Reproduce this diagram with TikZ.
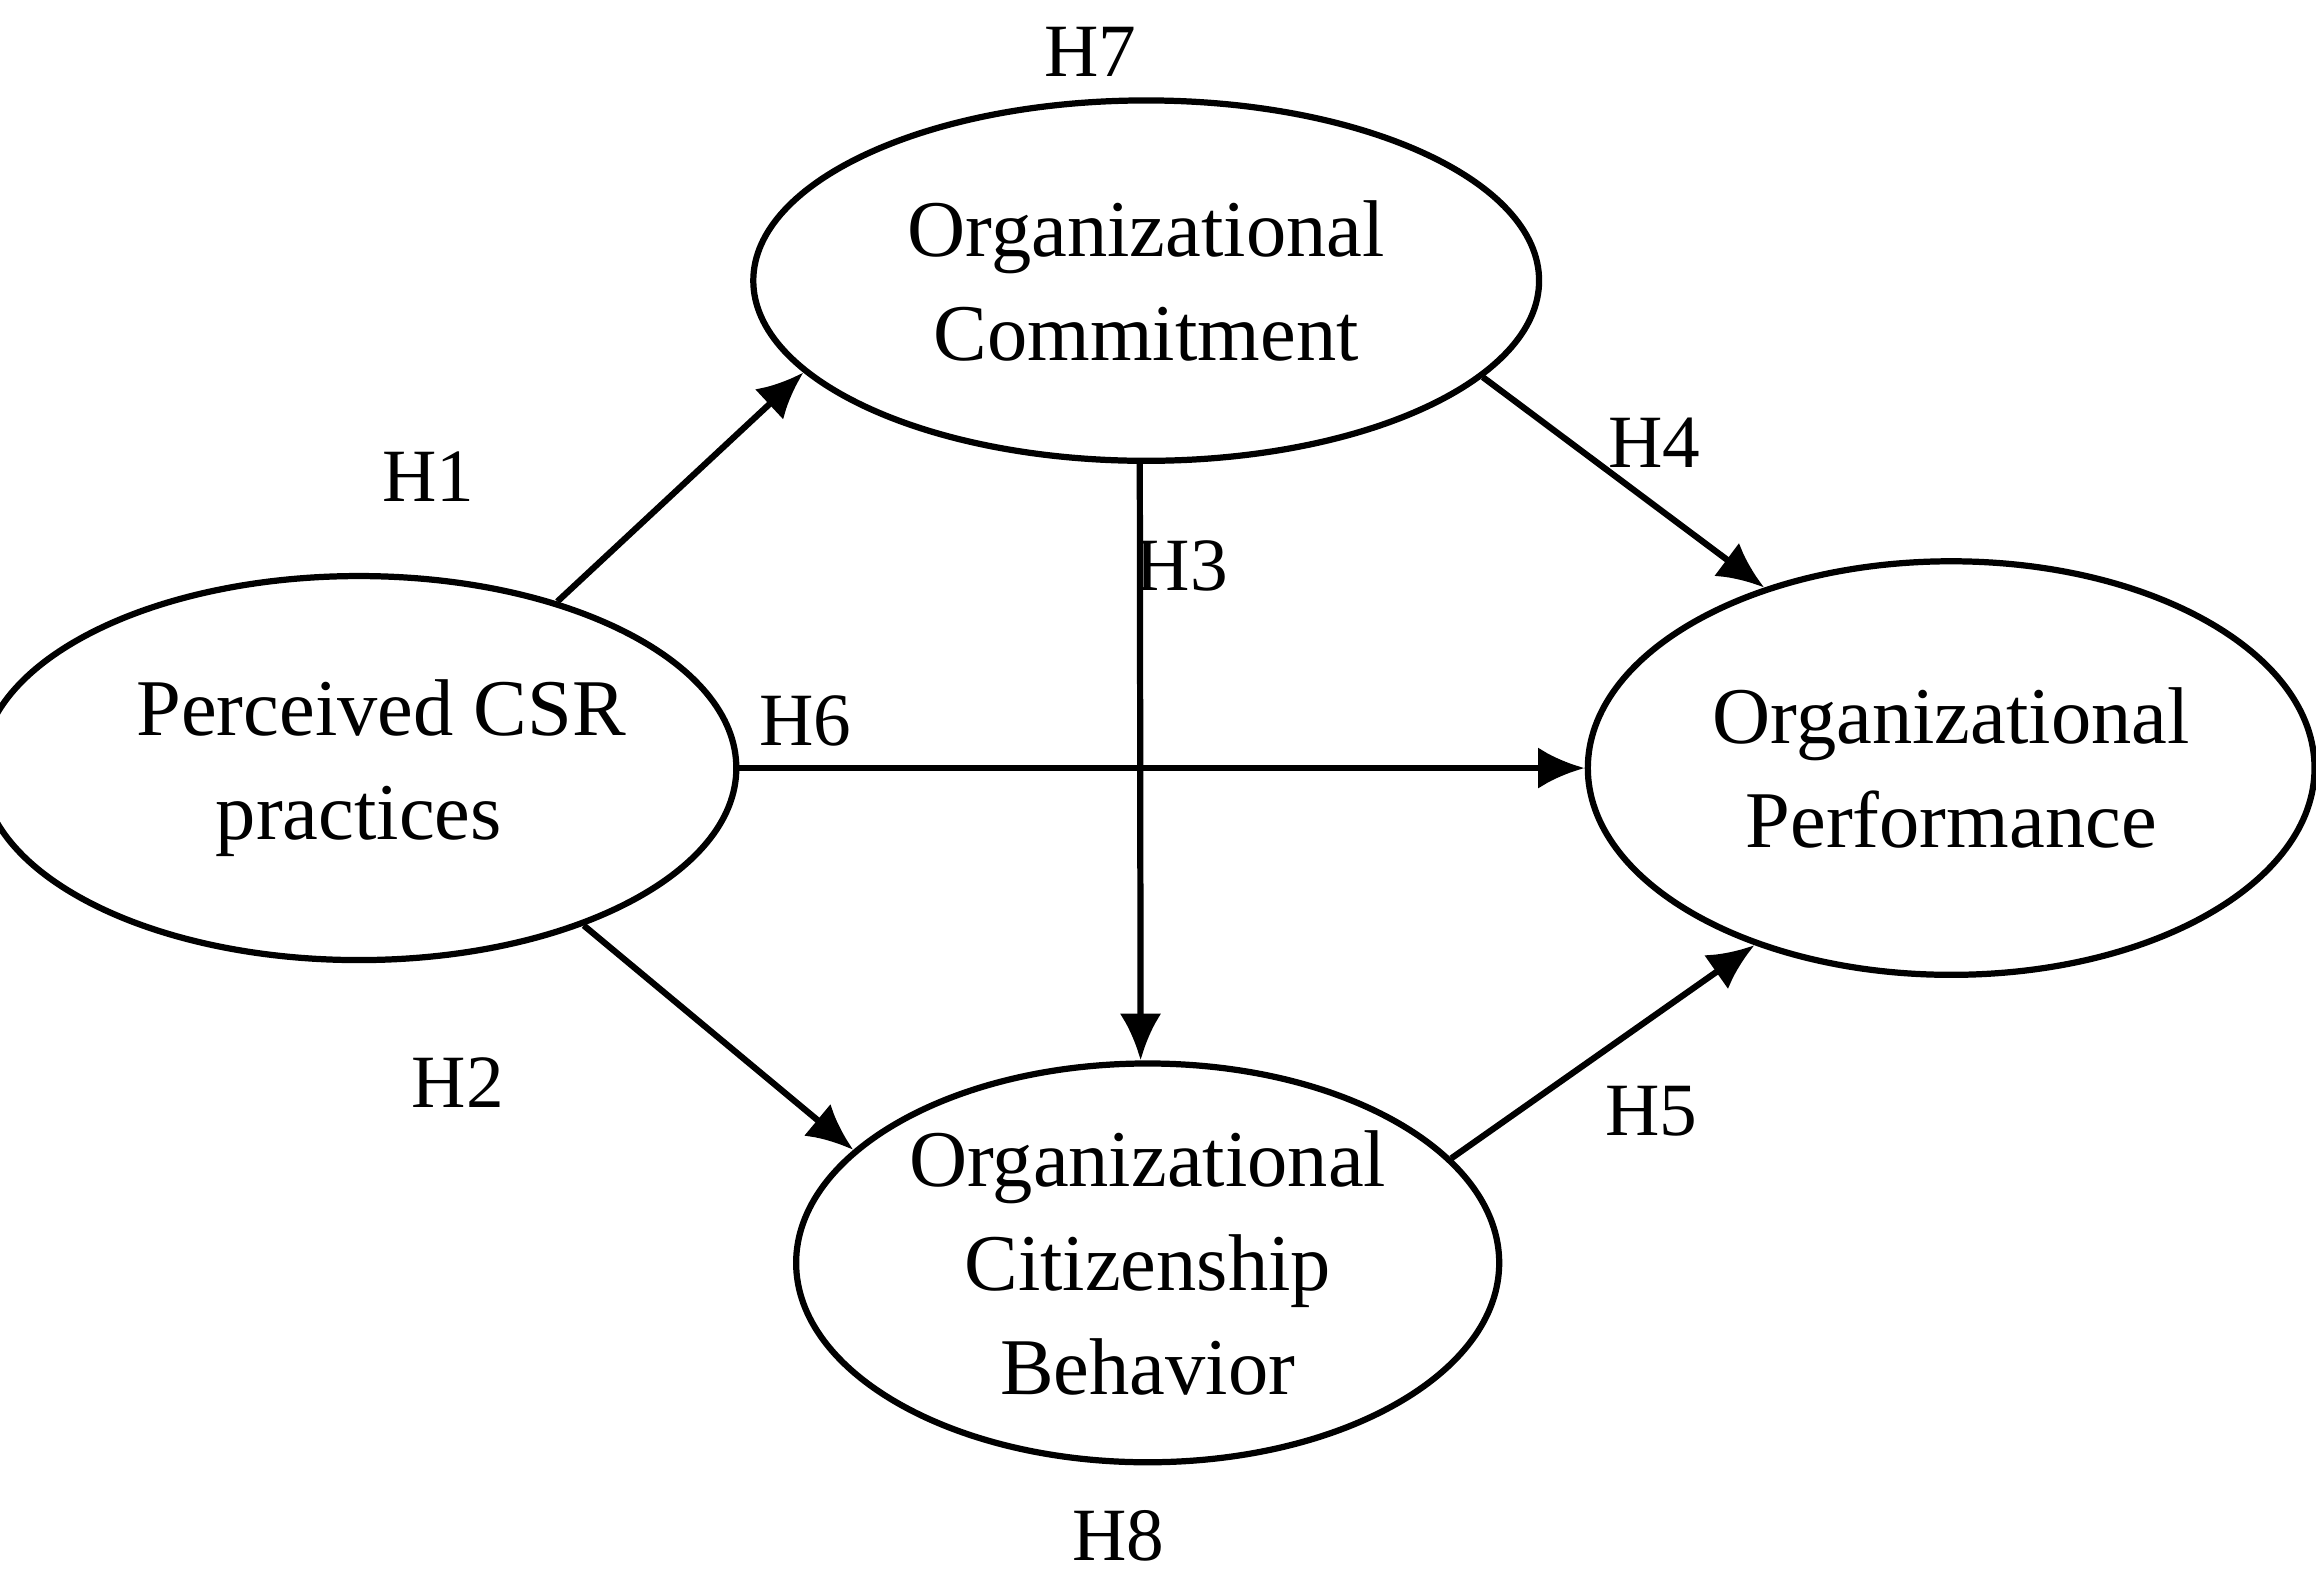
\documentclass[tikz,border=0pt]{standalone}
\usepackage{fontspec}
\setmainfont{Liberation Serif}
\usetikzlibrary{shapes.geometric}
\usetikzlibrary{arrows.meta}
\tikzset{
    construct/.style={draw=black, ellipse, line width=1.2pt, inner sep=0pt, align=center,
        font=\fontsize{15.5}{20}\selectfont},
    path/.style={draw=black, line width=1.2pt, -{Latex[length=9pt,width=8pt]}},
    hyp/.style={font=\fontsize{14.5}{17}\selectfont}
}
\begin{document}
\begin{tikzpicture}
\useasboundingbox (0,0) rectangle (15.68,-10.71);
\node[construct, minimum width=4.86cm, minimum height=2.6cm] (csr) at (2.43,-5.2) {\hspace*{0.3cm}Perceived CSR\\practices};
\node[construct, minimum width=5.32cm, minimum height=2.44cm] (oc) at (7.76,-1.9) {Organizational\\Commitment};
\node[construct, minimum width=4.92cm, minimum height=2.8cm] (op) at (13.21,-5.2) {Organizational\\Performance};
\node[construct, minimum width=4.76cm, minimum height=2.7cm] (ocb) at (7.77,-8.55) {Organizational\\Citizenship\\Behavior};
  \draw[style={path}] (csr.40) -- (oc.195);
  \draw[style={path}] (csr.-35) -- (ocb.159);
  \draw[style={path}] (csr) -- (op);
  \draw[style={path}] (oc.-92) -- (ocb.92);
  \draw[style={path}] (oc.-16) -- (op.136);
  \draw[style={path}] (ocb.19) -- (op.222);
\node[hyp] (h1) at (2.9,-3.23) {H1};
\node[hyp] (h2) at (3.1,-7.33) {H2};
\node[hyp] (h3) at (8.0,-3.83) {H3};
\node[hyp] (h4) at (11.2,-3.0) {H4};
\node[hyp] (h5) at (11.18,-7.52) {H5};
\node[hyp] (h6) at (5.45,-4.88) {H6};
\node[hyp] (h7) at (7.38,-0.35) {H7};
\node[hyp] (h8) at (7.57,-10.4) {H8};
\end{tikzpicture}
\end{document}
